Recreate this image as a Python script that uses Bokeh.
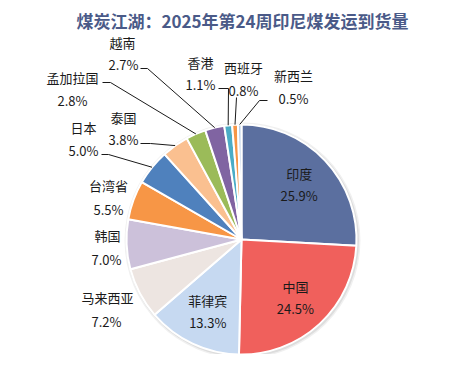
import numpy as np
from bokeh.plotting import figure
from bokeh.models import Range1d
from bokeh.core.properties import value
from bokeh.embed import file_html
from bokeh.resources import INLINE

title = "煤炭江湖：2025年第24周印尼煤发运到货量"
countries = ["印度", "中国", "菲律宾", "马来西亚", "韩国", "台湾省", "日本",
             "泰国", "孟加拉国", "越南", "香港", "西班牙", "新西兰"]
shares = [25.9, 24.5, 13.3, 7.2, 7.0, 5.5, 5.0, 3.8, 2.8, 2.7, 1.1, 0.8, 0.5]
colors = ["#5b6f9f", "#f0605c", "#c6d9f1", "#ede5e1", "#ccc1da", "#f79646",
          "#4f81bd", "#fac090", "#9bbb59", "#8064a2", "#4bacc6", "#f79646",
          "#b9cde5"]

W, H = 458, 354
FONT = "Noto Sans CJK SC"


def img(X, Y):
    return X, H - Y


p = figure(width=W, height=H, x_range=Range1d(0, W), y_range=Range1d(0, H),
           output_backend="svg", toolbar_location=None, min_border=0,
           x_axis_location=None, y_axis_location=None)
p.grid.visible = False
p.outline_line_color = None
p.background_fill_color = "white"

CX, CY = img(241, 239)
R = 115

vals = np.array(shares, dtype=float)
frac = vals / vals.sum()
cum_after = np.cumsum(frac)
cum_before = cum_after - frac
mid = (cum_before + cum_after) / 2.0

# shadow
p.circle(x=[CX + 1], y=[CY - 1], radius=R + 3, fill_color="#000000",
         fill_alpha=0.06, line_color=None)
p.circle(x=[CX + 1], y=[CY - 1], radius=R + 1.5, fill_color="#000000",
         fill_alpha=0.08, line_color=None)

p.wedge(x=CX, y=CY, radius=R,
        start_angle=list(np.pi / 2 - 2 * np.pi * cum_before),
        end_angle=list(np.pi / 2 - 2 * np.pi * cum_after),
        direction="clock", fill_color=colors, line_color="white", line_width=2)

labels_pct = [f"{v:.1f}%" for v in shares]

# inside labels for the three largest slices
inside = {0, 1, 2}
for i in inside:
    a = 2 * np.pi * mid[i]
    lx = CX + 0.69 * R * np.sin(a)
    ly = CY + 0.69 * R * np.cos(a)
    p.text(x=[lx], y=[ly + 11], text=[countries[i]], text_font=value(FONT),
           text_font_size="13px", text_color="#1a1a1a", text_align="center",
           text_baseline="middle")
    p.text(x=[lx], y=[ly - 11], text=[labels_pct[i]], text_font=value(FONT),
           text_font_size="13px", text_color="#1a1a1a", text_align="center",
           text_baseline="middle")

# outside label layout (image px): name centre, pct centre
outside_pos = {
    3: ((107, 297), (106, 321)),
    4: ((107, 235), (106, 259)),
    5: ((108, 185), (108, 209)),
    6: ((83, 127), (83, 150)),
    7: ((123, 117), (123, 139)),
    8: ((72, 77), (72, 100)),
    9: ((122, 42), (123, 64)),
    10: ((200, 62), (200, 84)),
    11: ((243, 67), (243, 90)),
    12: ((293, 75), (293, 98)),
}
for i, (npos, ppos) in outside_pos.items():
    nx, ny = img(*npos)
    px_, py_ = img(*ppos)
    p.text(x=[nx], y=[ny], text=[countries[i]], text_font=value(FONT),
           text_font_size="13px", text_color="#1a1a1a", text_align="center",
           text_baseline="middle")
    p.text(x=[px_], y=[py_], text=[labels_pct[i]], text_font=value(FONT),
           text_font_size="13px", text_color="#1a1a1a", text_align="center",
           text_baseline="middle")

# leader lines: start and elbow (image px); end on slice edge
leaders = {
    6: ((101, 154), (108, 154)),
    7: ((140, 143), (150, 143)),
    8: ((102, 82), (110, 82)),
    9: ((140, 68), (147, 68)),
    10: ((218, 88), (228, 88)),
    11: ((236, 97), (236, 97)),
    12: ((267, 100), (259, 100)),
}
for i, (s, e) in leaders.items():
    a = 2 * np.pi * mid[i]
    ex = CX + R * np.sin(a)
    ey = CY + R * np.cos(a)
    sx, sy = img(*s)
    bx, by = img(*e)
    p.line(x=[sx, bx, ex], y=[sy, by, ey], line_color="#1a1a1a", line_width=1)

tx, ty = img(242, 20)
p.text(x=[tx], y=[ty], text=[title], text_font=value(FONT),
       text_font_size="17px", text_font_style="bold", text_color="#4a5a88",
       text_align="center", text_baseline="middle")

open("out.html", "w").write(file_html(p, INLINE))
